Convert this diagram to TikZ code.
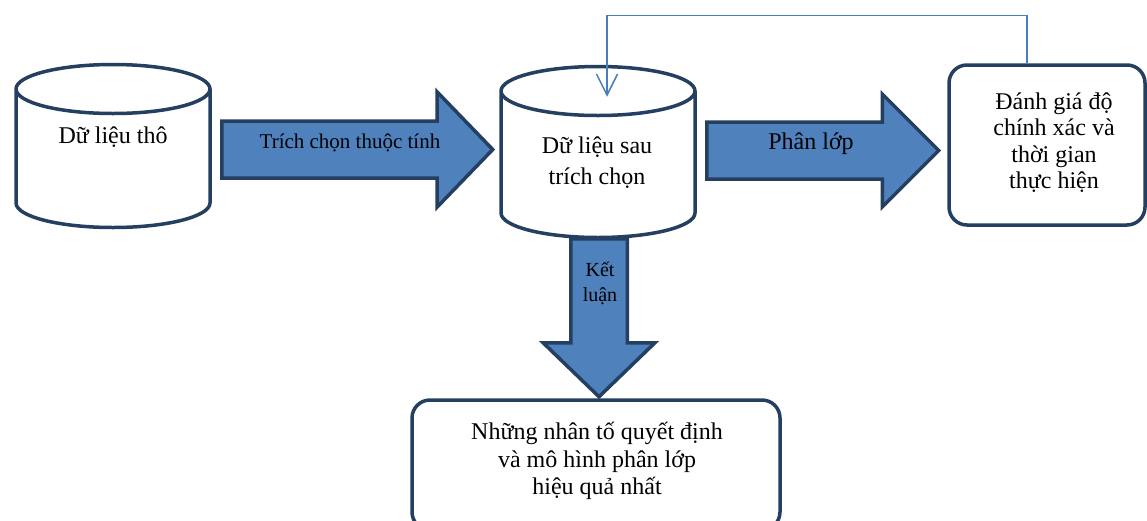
\documentclass[tikz,border=0pt]{standalone}
\usepackage{fontspec}
\setmainfont{Liberation Serif}
\usepackage{tikz}
\usetikzlibrary{arrows.meta,shapes.geometric,shapes.arrows,positioning,calc}

\definecolor{navy}{HTML}{243F60}
\definecolor{office}{HTML}{4F81BD}
\definecolor{thinblue}{HTML}{4A7EBB}

\begin{document}
\begin{tikzpicture}[x=1pt,y=1pt,store/.style={cylinder,shape border rotate=90,aspect=0.49,draw=navy,line width=3.5pt,fill=white,inner sep=50pt,minimum width=194pt,anchor=shape center}, block/.style={single arrow,draw=navy,fill=office,line width=3.5pt,inner sep=26.75pt,single arrow tip angle=92,anchor=tail}, result/.style={rectangle,rounded corners=18pt,draw=navy,line width=3.5pt,fill=white}, txt/.style={align=center,inner sep=0pt}, big/.style={font=\fontsize{24}{27}\selectfont}, feedback/.style={draw=thinblue,line width=1.5pt,-{Straight Barb[length=21pt,width=21pt]}}]
\useasboundingbox (0,0) rectangle (1147,-520);

\node(raw)[store,minimum height=163pt] at (113,-146) {};
\node(sel)[store,minimum height=171pt] at (598,-152) {};
\node(eval)[result,minimum width=196pt,minimum height=160pt] at (1047,-145) {};
\node(best)[result,minimum width=368pt,minimum height=130pt] at (596,-465) {};

\node(extract)[block,minimum height=271pt,single arrow head extend=29pt] at (220,-149.5) {};
\node(classify)[block,minimum height=232pt,single arrow head extend=28pt,single arrow tip angle=90] at (705,-150.5) {};
\node(conclude)[block,shape border rotate=270,minimum height=158pt,inner sep=26.5pt,single arrow head extend=27.5pt] at (599,-237) {};

\node(rawtext)[txt,big,anchor=base] at (113,-143) {Dữ liệu thô};
\node(seltext)[txt,font=\fontsize{24}{31}\selectfont] at (597,-163) {Dữ liệu sau\\trích chọn};
\node(evaltext)[txt,font=\fontsize{24}{26.3}\selectfont] at (1054,-142.5) {Đánh giá độ\\chính xác và\\thời gian\\thực hiện};
\node(besttext)[txt,font=\fontsize{24}{27.5}\selectfont] at (597,-461) {Những nhân tố quyết định\\và mô hình phân lớp\\hiệu quả nhất};
\node(extracttext)[txt,font=\fontsize{21}{25}\selectfont,anchor=base] at (350,-148) {Trích chọn thuộc tính};
\node(classifytext)[txt,big,anchor=base] at (811,-149) {Phân lớp};
\node(concludetext)[txt,font=\fontsize{20}{25}\selectfont] at (600,-283) {Kết\\luận};

\coordinate (fbtip) at ($(sel.north)+(9,-32)$);
\draw[feedback] ([xshift=-20pt]eval.north) -- ++(0,48) -| (fbtip);
\end{tikzpicture}
\end{document}
